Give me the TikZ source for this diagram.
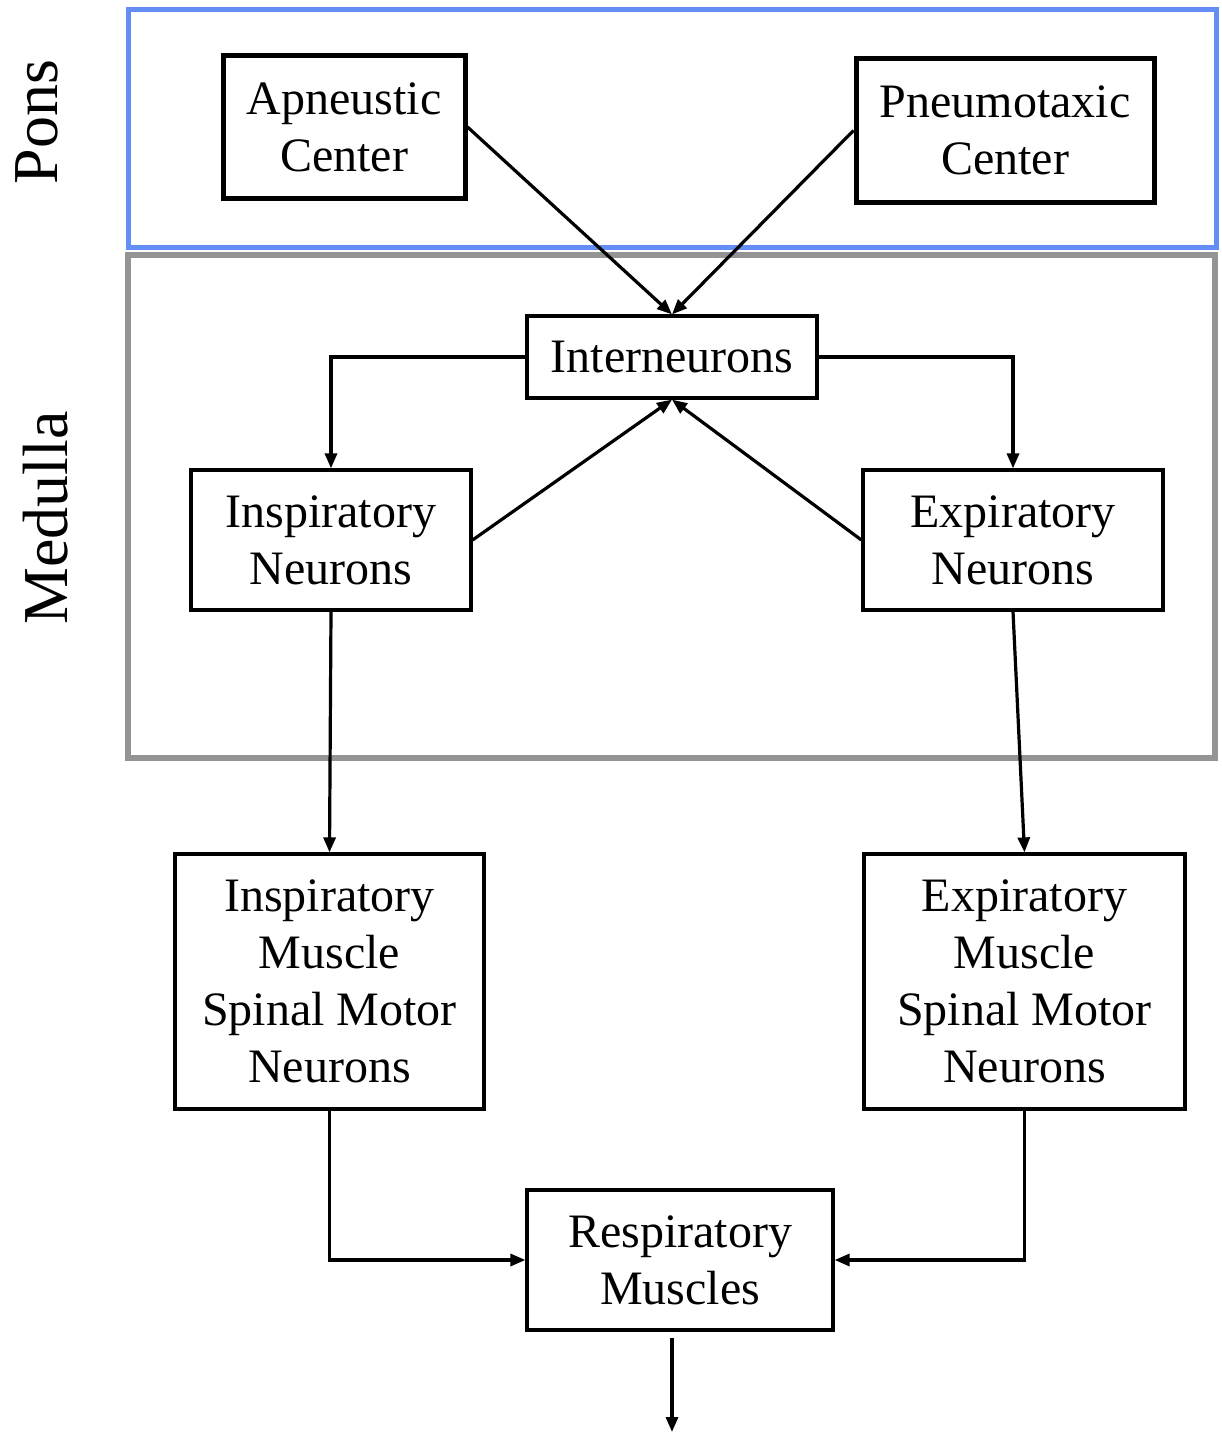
\documentclass[tikz,border=0pt]{standalone}
\usepackage{fontspec}
\setmainfont{Liberation Serif}
\usetikzlibrary{arrows.meta}
\definecolor{ponsblue}{RGB}{98,142,246}
\definecolor{medgray}{RGB}{148,148,148}
\begin{document}
\begin{tikzpicture}[x=1pt,y=-1pt,
  box/.style={draw=black,line width=3.2pt,rectangle,inner sep=0pt,align=center,
    font=\fontsize{48}{57}\selectfont},
  thickbox/.style={box,line width=5pt},
  conn/.style={line width=3.2pt,-{Triangle[length=15pt,width=12pt]}},
  region/.style={font=\fontsize{64}{70}\selectfont,rotate=90,inner sep=0pt}]
\useasboundingbox (0,0) rectangle (1221,1437);

% regions
\draw[medgray,line width=6.5pt] (128,255) rectangle (1215,758);
\draw[ponsblue,line width=5pt] (128,10) rectangle (1216,247);
\node[region] (pons) at (37,122) {Pons};
\node[region] (medulla) at (46,518) {Medulla};

% nodes
\node[thickbox,minimum width=242pt,minimum height=142pt] (apn) at (344,127) {Apneustic\\Center};
\node[thickbox,minimum width=298pt,minimum height=143pt] (pnm) at (1005,130.5) {Pneumotaxic\\Center};
\node[box,minimum width=290pt,minimum height=82pt] (int) at (672,357) {Interneurons};
\node[box,minimum width=280pt,minimum height=140pt] (inN) at (331,540) {Inspiratory\\Neurons};
\node[box,minimum width=300pt,minimum height=140pt] (exN) at (1013,540) {Expiratory\\Neurons};
\node[box,minimum width=309pt,minimum height=255pt] (inM) at (329.5,981.5) {Inspiratory\\Muscle\\Spinal Motor\\Neurons};
\node[box,minimum width=321pt,minimum height=255pt] (exM) at (1024.5,981.5) {Expiratory\\Muscle\\Spinal Motor\\Neurons};
\node[box,minimum width=306pt,minimum height=140pt] (resp) at (680,1260) {Respiratory\\Muscles};
\coordinate (out) at (672,1432);

% connectors
\draw[conn] (apn.east) -- (int.north);
\draw[conn] (pnm.west) -- (int.north);
\draw[conn] (int.west) -| (inN.north);
\draw[conn] (int.east) -| (exN.north);
\draw[conn] (inN.east) -- (int.south);
\draw[conn] (exN.west) -- (int.south);
\draw[conn] (inN.south) -- (inM.north);
\draw[conn] (exN.south) -- (exM.north);
\draw[conn] (inM.south) |- (resp.west);
\draw[conn] (exM.south) |- (resp.east);
\draw[conn] ([xshift=-8pt,yshift=-6pt]resp.south) -- (out);
\end{tikzpicture}
\end{document}
